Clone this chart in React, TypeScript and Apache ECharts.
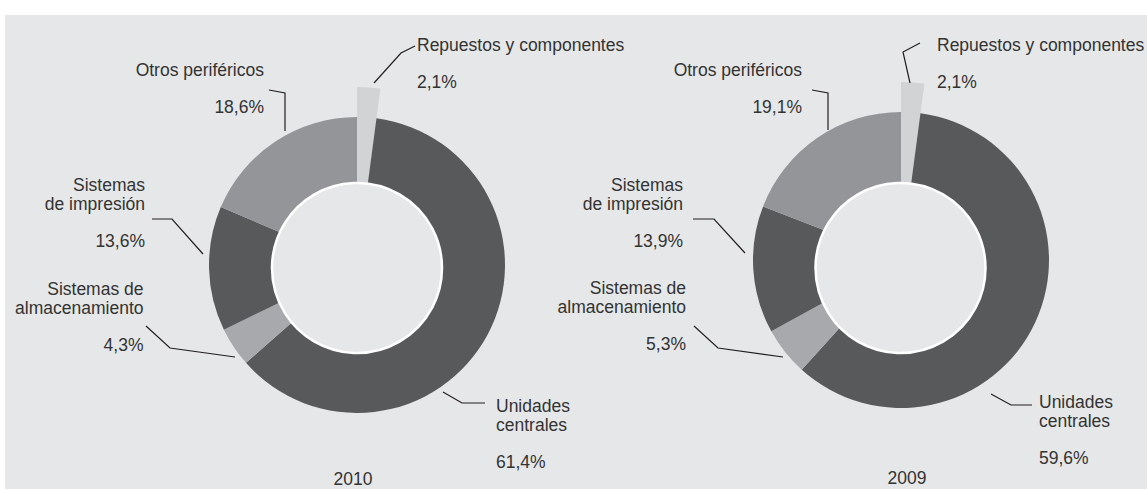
import React, { useEffect, useRef } from 'react';
import * as echarts from 'echarts';

// ---- data ----
const categories = [
  'Repuestos y componentes',
  'Unidades centrales',
  'Sistemas de almacenamiento',
  'Sistemas de impresión',
  'Otros periféricos',
];
const labelTexts = [
  'Repuestos y componentes',
  'Unidades\ncentrales',
  'Sistemas de\nalmacenamiento',
  'Sistemas\nde impresión',
  'Otros periféricos',
];
const values2010 = [2.1, 61.4, 4.3, 13.6, 18.6];
const values2009 = [2.1, 59.6, 5.3, 13.9, 19.1];
const years = ['2010', '2009'];

// ---- style ----
const COLORS = ['#d1d3d4', '#58595b', '#a7a9ac', '#58595b', '#939598'];
const BG = '#e6e7e8';
const FONT = '"Liberation Sans", Arial, sans-serif';
const FS = 17.5;
const LH = 18.7;
const TEXT = '#333333';

type LabelPos = { x: number; y: number; align: 'left' | 'right'; line: number[][] };

const layoutLeft: LabelPos[] = [
  { x: 417, y: 35.6, align: 'left', line: [[374, 83], [401, 53], [415, 46]] },
  { x: 496, y: 396.6, align: 'left', line: [[443, 392], [462, 403], [485, 403]] },
  { x: 143.5, y: 279.6, align: 'right', line: [[235, 357], [170, 348], [146, 326]] },
  { x: 145, y: 175.6, align: 'right', line: [[203, 254], [172, 219], [152, 219]] },
  { x: 264, y: 60.6, align: 'right', line: [[285, 131], [285, 93], [269, 90]] },
];
const layoutRight: LabelPos[] = [
  { x: 937, y: 35.6, align: 'left', line: [[910, 83], [903, 52], [920, 43]] },
  { x: 1039, y: 392.6, align: 'left', line: [[991, 394], [1011, 405], [1032, 405]] },
  { x: 686, y: 278.6, align: 'right', line: [[783, 357], [718, 348], [694, 326]] },
  { x: 683, y: 175.6, align: 'right', line: [[745, 253], [714, 219], [693, 219]] },
  { x: 802, y: 60.6, align: 'right', line: [[828, 130], [828, 93], [812, 90]] },
];

function fmt(v: number): string {
  return v.toFixed(1).replace('.', ',') + '%';
}

function mainSeries(values: number[], center: number[], positions: LabelPos[]) {
  return {
    type: 'pie',
    center,
    radius: [60, 148],
    startAngle: 90,
    clockwise: true,
    avoidLabelOverlap: false,
    silent: true,
    z: 2,
    emphasis: { disabled: true },
    itemStyle: { borderWidth: 0 },
    data: categories.map((c, i) => ({ name: c, value: values[i], itemStyle: { color: COLORS[i] } })),
    label: {
      show: true,
      formatter: (p: any) => labelTexts[p.dataIndex] + '\n\n' + fmt(values[p.dataIndex]),
      color: TEXT,
      fontFamily: FONT,
      fontSize: FS,
      lineHeight: LH,
    },
    labelLine: { show: true, smooth: false, lineStyle: { color: '#231f20', width: 1.2 } },
    labelLayout: (p: any) => {
      const pos = positions[p.dataIndex];
      return { x: pos.x, y: pos.y, align: pos.align, verticalAlign: 'top', labelLinePoints: pos.line };
    },
  };
}

function extSeries(values: number[], center: number[]) {
  return {
    type: 'pie',
    center,
    radius: [60, 178],
    startAngle: 90,
    clockwise: true,
    silent: true,
    z: 1,
    emphasis: { disabled: true },
    label: { show: false },
    labelLine: { show: false },
    data: categories.map((c, i) => ({
      name: c,
      value: values[i],
      itemStyle: { color: i === 0 ? COLORS[0] : 'rgba(0,0,0,0)' },
    })),
  };
}

export default function App() {
  const ref = useRef<HTMLDivElement>(null);
  useEffect(() => {
    document.body.style.margin = '0';
    if (!ref.current) return;
    const chart = echarts.init(ref.current, undefined, { renderer: 'svg' });
    const leftC = [357, 265];
    const rightC = [901, 260];
    chart.setOption({
      animation: false,
      graphic: [
        { type: 'rect', z: -100, shape: { x: 5, y: 15, width: 1142, height: 474 }, style: { fill: BG }, silent: true },
        { type: 'circle', z: 100, shape: { cx: 357, cy: 268, r: 85 }, style: { fill: BG, stroke: '#ffffff', lineWidth: 2.5 }, silent: true },
        { type: 'circle', z: 100, shape: { cx: 900.5, cy: 268, r: 85 }, style: { fill: BG, stroke: '#ffffff', lineWidth: 2.5 }, silent: true },
        { type: 'text', z: 100, x: 353, y: 479, style: { text: years[0], fill: TEXT, font: `${FS}px ${FONT}`, textAlign: 'center', textVerticalAlign: 'middle' }, silent: true },
        { type: 'text', z: 100, x: 907, y: 478, style: { text: years[1], fill: TEXT, font: `${FS}px ${FONT}`, textAlign: 'center', textVerticalAlign: 'middle' }, silent: true },
      ],
      series: [
        extSeries(values2010, leftC),
        mainSeries(values2010, leftC, layoutLeft),
        extSeries(values2009, rightC),
        mainSeries(values2009, rightC, layoutRight),
      ],
    });
    return () => chart.dispose();
  }, []);
  return <div ref={ref} style={{ width: 1147, height: 490, position: 'absolute', left: 0, top: 0 }} />;
}
